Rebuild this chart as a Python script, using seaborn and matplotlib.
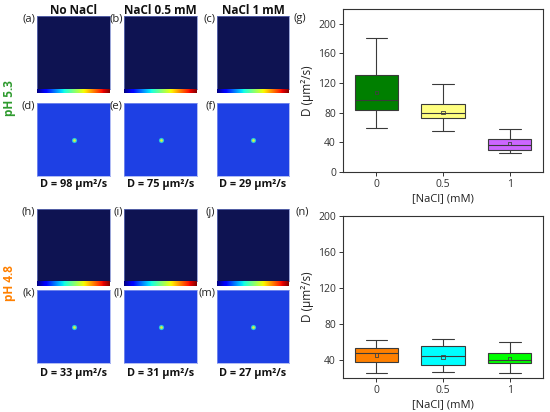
import numpy as np
import pandas as pd
import matplotlib
matplotlib.use("Agg")
import matplotlib.pyplot as plt
import seaborn as sns

# ---------------- data ----------------
nacl = ["0", "0.5", "1"]
# pH 5.3 box statistics (um^2/s)
top_wlo = [59.5, 55.0, 26.0]
top_q1 = [83.4, 72.5, 29.7]
top_med = [96.9, 79.3, 37.0]
top_q3 = [130.6, 91.5, 44.0]
top_whi = [181.5, 119.0, 58.0]
top_mean = [107.0, 80.7, 38.0]
top_colors = ["#007F00", "#FFFF80", "#CC66FF"]
# pH 4.8 box statistics
bot_wlo = [25.9, 26.3, 25.9]
bot_q1 = [37.8, 34.1, 36.7]
bot_med = [47.8, 44.1, 39.7]
bot_q3 = [53.7, 55.2, 47.4]
bot_whi = [62.2, 63.3, 59.7]
bot_mean = [45.6, 43.3, 41.9]
bot_colors = ["#FF8000", "#00FFFF", "#00FF00"]

col_titles = ["No NaCl", "NaCl 0.5 mM", "NaCl 1 mM"]
top_D = [98, 75, 29]
bot_D = [33, 31, 27]
top_letters = [["(a)", "(b)", "(c)"], ["(d)", "(e)", "(f)"]]
bot_letters = [["(h)", "(i)", "(j)"], ["(k)", "(l)", "(m)"]]
y_ticks_top = [0, 40, 80, 120, 160, 200]
y_ticks_bot = [40, 80, 120, 160, 200]

sns.set_theme(style="ticks")
plt.rcParams["font.family"] = ["Open Sans", "DejaVu Sans"]

W, H = 550, 412
fig = plt.figure(figsize=(W / 100, H / 100), dpi=100)


def ax_px(x0, y0, x1, y1):
    return fig.add_axes([x0 / W, 1 - y1 / H, (x1 - x0) / W, (y1 - y0) / H])


def ftext(x, y, s, **kw):
    fig.text(x / W, 1 - y / H, s, **kw)


cols = [(37, 110), (124, 197), (217, 289)]
dark = "#0E1352"
blue = "#1E40E4"
grad = np.linspace(0, 1, 256).reshape(1, -1)


def image_block(rows, letters, Dvals, dtext_y):
    (d0, d1), (c0, c1), (b0, b1) = rows
    for i, (x0, x1) in enumerate(cols):
        a = ax_px(x0, d0, x1, d1)
        a.set_facecolor(dark)
        a.set_xticks([]); a.set_yticks([])
        for s in a.spines.values():
            s.set_color("#7080C8"); s.set_linewidth(0.5)
        cb = ax_px(x0, c0, x1, c1)
        cb.imshow(grad, aspect="auto", cmap="jet")
        cb.set_axis_off()
        b = ax_px(x0, b0, x1, b1)
        b.set_facecolor(blue)
        b.set_xlim(0, 1); b.set_ylim(0, 1)
        b.set_xticks([]); b.set_yticks([])
        for s in b.spines.values():
            s.set_color("#90A0F0"); s.set_linewidth(0.5)
        b.scatter([0.5], [0.5], s=14, marker="o", color="#28C8E0", linewidths=0)
        b.scatter([0.5], [0.5], s=4, marker="o", color="#D8F040", linewidths=0)
        ftext(x0 - 1.5, d0 + 3, letters[0][i], ha="right", va="center", fontsize=8, color="#222222")
        ftext(x0 - 1.5, b0 + 3, letters[1][i], ha="right", va="center", fontsize=8, color="#222222")
        ftext((x0 + x1) / 2, dtext_y, f"D = {Dvals[i]} μm²/s", ha="center", va="center",
              fontsize=7.8, fontweight="bold", color="#111111")


for i, (x0, x1) in enumerate(cols):
    ftext((x0 + x1) / 2, 11, col_titles[i], ha="center", va="center", fontsize=8.5,
          fontweight="bold", color="#111111")

image_block([(16, 89), (89, 93.5), (103, 176)], top_letters, top_D, 185)
image_block([(209, 281), (281, 286), (290, 363)], bot_letters, bot_D, 373.5)

ftext(10, 98, "pH 5.3", rotation=90, ha="center", va="center", fontsize=8.5,
      fontweight="bold", color="#2E9A2E")
ftext(10, 283, "pH 4.8", rotation=90, ha="center", va="center", fontsize=8.5,
      fontweight="bold", color="#FF8000")


def box_panel(box, wlo, q1, med, q3, whi, mean, colors, yl, yticks, letter, lpos):
    rows = []
    for k, c in enumerate(nacl):
        for v in (wlo[k], q1[k], med[k], q3[k], whi[k]):
            rows.append({"NaCl": c, "D": v})
    df = pd.DataFrame(rows)
    ax = ax_px(*box)
    sns.boxplot(data=df, x="NaCl", y="D", hue="NaCl", order=nacl, hue_order=nacl,
                palette=colors, saturation=1, width=0.65, whis=np.inf,
                linecolor="#3A3A3A", linewidth=0.8, legend=False, ax=ax)
    ax.scatter(range(len(nacl)), mean, marker="s", s=5, facecolors="none",
               edgecolors="#404040", linewidths=0.6, zorder=5)
    ax.set_xlim(-0.5, 2.5)
    ax.set_ylim(*yl)
    ax.set_yticks(yticks)
    ax.set_xlabel("[NaCl] (mM)", fontsize=8, color="#222222", labelpad=2)
    ax.set_ylabel("D (μm²/s)", fontsize=8.5, color="#222222", labelpad=3)
    ax.tick_params(labelsize=7.5, colors="#333333", length=3, width=0.7, pad=2)
    for s in ax.spines.values():
        s.set_visible(True); s.set_color("#333333"); s.set_linewidth(0.8)
    ftext(lpos[0], lpos[1], letter, ha="center", va="center", fontsize=8, color="#222222")


box_panel((343, 9, 543, 172), top_wlo, top_q1, top_med, top_q3, top_whi, top_mean,
          top_colors, (0, 220), y_ticks_top, "(g)", (300, 18))
box_panel((343, 216, 543, 378), bot_wlo, bot_q1, bot_med, bot_q3, bot_whi, bot_mean,
          bot_colors, (20, 200), y_ticks_bot, "(n)", (302, 212))

fig.savefig("out.png", dpi=100)
